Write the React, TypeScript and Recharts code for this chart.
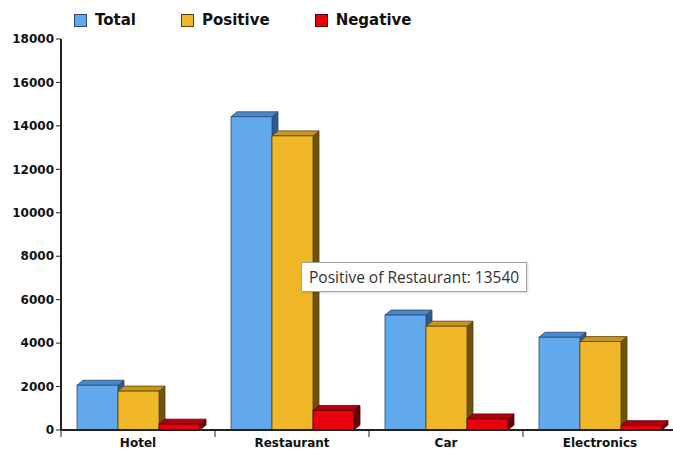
import React from 'react';
import { BarChart, Bar, XAxis, YAxis, Tooltip, Legend } from 'recharts';

const categories = ['Hotel', 'Restaurant', 'Car', 'Electronics'];
const totalValues = [2060, 14420, 5290, 4270];
const positiveValues = [1790, 13540, 4780, 4070];
const negativeValues = [270, 900, 510, 200];
const yTicks = [0, 2000, 4000, 6000, 8000, 10000, 12000, 14000, 16000, 18000];
const seriesNames = ['Total', 'Positive', 'Negative'];

const data = categories.map((c, i) => ({
  name: c,
  Total: totalValues[i],
  Positive: positiveValues[i],
  Negative: negativeValues[i],
}));

const palette: Record<string, { front: string; top: string; side: string; line: string }> = {
  Total: { front: '#62a8ec', top: '#4a88c8', side: '#2c5a8c', line: '#2a4a70' },
  Positive: { front: '#f0b828', top: '#c8961c', side: '#6e5210', line: '#5a4208' },
  Negative: { front: '#e8000c', top: '#b00010', side: '#6a0008', line: '#5a0008' },
};

const DX = 6;
const DY = 5;

const make3D = (key: string) => (props: any) => {
  const { x, y, width, height } = props;
  if (width == null || height == null) return null;
  const c = palette[key];
  const top = `${x},${y} ${x + DX},${y - DY} ${x + width + DX},${y - DY} ${x + width},${y}`;
  const side = `${x + width},${y} ${x + width + DX},${y - DY} ${x + width + DX},${y + height - DY} ${x + width},${y + height}`;
  return (
    <g>
      <polygon points={side} fill={c.side} stroke={c.line} strokeWidth={0.8} />
      <polygon points={top} fill={c.top} stroke={c.line} strokeWidth={0.8} />
      <rect x={x} y={y} width={width} height={height} fill={c.front} stroke={c.line} strokeWidth={0.8} />
    </g>
  );
};

const XTick = (props: any) => {
  const { x, y, payload } = props;
  const off = payload.offset || 0;
  return (
    <g>
      <line x1={x - off} y1={y - 8} x2={x - off} y2={y - 1} stroke="#222" strokeWidth={1} />
      <text x={x} y={y} dy="0.71em" textAnchor="middle" fontFamily="DejaVu Sans" fontWeight="bold" fontSize={12} fill="#111">
        {payload.value}
      </text>
    </g>
  );
};

const LegendContent = () => (
  <div style={{ height: 30, boxSizing: 'border-box', paddingTop: 10, display: 'flex', alignItems: 'center', paddingLeft: 74, gap: 45, fontFamily: 'DejaVu Sans', fontWeight: 'bold', fontSize: 15, color: '#111' }}>
    {seriesNames.map((n) => (
      <div key={n} style={{ display: 'flex', alignItems: 'center' }}>
        <span style={{ display: 'inline-block', width: 11, height: 11, background: palette[n].front, border: `1px solid ${palette[n].line}`, marginRight: 8 }} />
        <span>{n}</span>
      </div>
    ))}
  </div>
);

const TipContent = (props: any) => {
  const { payload, label } = props;
  if (!payload || !payload.length) return null;
  const p = payload.find((e: any) => e.dataKey === 'Positive') || payload[0];
  return (
    <div style={{ background: '#fff', border: '1px solid #a0a0a0', padding: '3px 7px', fontFamily: 'Open Sans', fontSize: 15.5, color: '#333', whiteSpace: 'nowrap', boxShadow: '1px 1px 2px rgba(0,0,0,0.15)' }}>
      {`${p.dataKey} of ${label}: ${p.value}`}
    </div>
  );
};

export default function App() {
  return (
    <div style={{ position: 'absolute', left: 0, top: 0, width: 673, height: 450, background: '#fff' }}>
      <BarChart
        width={673}
        height={450}
        data={data}
        margin={{ top: 9, right: -4, bottom: 0, left: 0 }}
        barCategoryGap={16}
        barGap={0}
      >
        <Legend verticalAlign="top" content={<LegendContent />} wrapperStyle={{ top: 0, left: 0, width: 673 }} />
        <XAxis
          dataKey="name"
          height={20}
          axisLine={{ stroke: '#222', strokeWidth: 2 }}
          tickLine={false}
          tick={<XTick />}
          interval={0}
        />
        <YAxis
          width={61}
          domain={[0, 18000]}
          ticks={yTicks}
          interval={0}
          axisLine={{ stroke: '#222', strokeWidth: 2 }}
          tickLine={{ stroke: '#222' }}
          tickSize={5}
          tickMargin={2}
          tick={{ fontFamily: 'DejaVu Sans', fontWeight: 'bold', fontSize: 12, fill: '#111' }}
        />
        <Tooltip
          active
          defaultIndex={1}
          cursor={false}
          position={{ x: 301, y: 262 }}
          content={<TipContent />}
          isAnimationActive={false}
        />
        {seriesNames.map((n) => (
          <Bar key={n} dataKey={n} shape={make3D(n)} isAnimationActive={false} />
        ))}
      </BarChart>
    </div>
  );
}
